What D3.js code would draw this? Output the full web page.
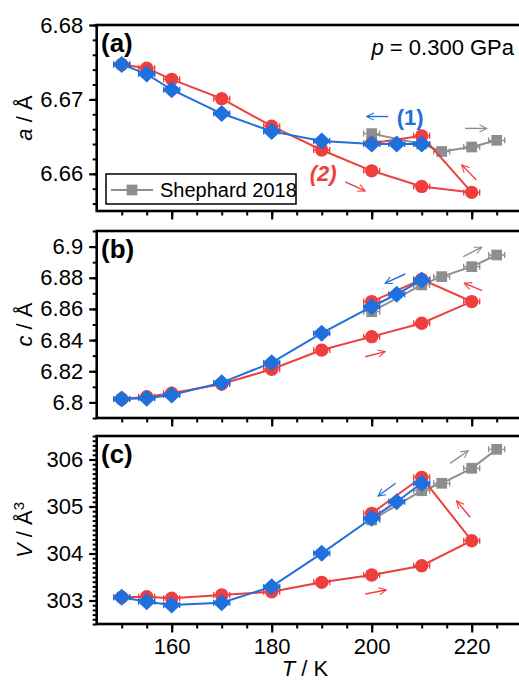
<!DOCTYPE html>
<html><head><meta charset="utf-8">
<script src="https://cdn.jsdelivr.net/npm/d3@7"></script>
<style>
body{margin:0;background:#fff;}
svg{display:block;font-family:"Liberation Sans",Arial,sans-serif;}
</style></head>
<body>
<svg id="chart" width="519" height="681"></svg>
<script>
// ---- data ----
const tempBlue = [150,155,160,170,180,190,200,205,210];
const aBlue = [6.6747,6.6734,6.6713,6.6681,6.6657,6.6644,6.6640,6.6640,6.6640];
const cBlue = [6.8022,6.8026,6.8048,6.8127,6.8255,6.8444,6.8614,6.8694,6.8786];
const vBlue = [303.068,302.975,302.904,302.953,303.294,304.004,304.749,305.102,305.494];

const tempRed = [150,155,160,170,180,190,200,210,220,210,200];
const aRed = [6.6747,6.6742,6.6727,6.6701,6.6664,6.6632,6.6604,6.6583,6.6575,6.6651,6.6641];
const cRed = [6.8022,6.8037,6.8059,6.8118,6.8213,6.8336,6.8422,6.8508,6.8647,6.8790,6.8647];
const vRed = [303.07,303.08,303.047,303.117,303.187,303.387,303.543,303.74,304.272,305.621,304.855];

const tempGray = [200,210,214,220,225];
const aGray = [6.6654,6.6640,6.6630,6.6636,6.6645];
const cGray = [6.8582,6.8754,6.8807,6.8871,6.8946];
const vGray = [304.713,305.336,305.494,305.813,306.217];

const xTicks = [160,180,200,220];
const aTicks = [6.66,6.67,6.68];
const cTicks = [6.8,6.82,6.84,6.86,6.88,6.9];
const vTicks = [303,304,305,306];

// arrow annotations in data units: [T1, v1, T2, v2, colour key]
const arrowsA = [[203.3,6.6677,199,6.6677,"blue"],[218.7,6.6661,223,6.6661,"gray"],[194.7,6.6589,198.7,6.6577,"red"],[220.9,6.6592,218,6.6612,"red"]];
const arrowsB = [[206.7,6.8824,202.7,6.8765,"blue"],[218.3,6.8935,222,6.8996,"gray"],[222.1,6.8717,218.5,6.8765,"red"],[198.7,6.8293,202.7,6.8326,"red"]];
const arrowsC = [[215.7,305.919,219.3,306.187,"gray"],[204.8,305.494,201.3,305.223,"blue"],[219.7,304.77,217,305.117,"red"],[198.7,303.138,202.9,303.223,"red"]];

const COL = {red:"#ee3e3e", blue:"#1f6fdc", gray:"#8e8e8e"};

const svg = d3.select("#chart");
const FONT = 22;
const x = d3.scaleLinear().domain([145,230]).range([96.7,521.7]);

const panels = [
  {key:"a", dom:[6.655,6.68], rng:[211,25], ticks:aTicks, minor:0.002, fmt:d3.format(".2f"),
   blue:aBlue, red:aRed, gray:aGray, arrows:arrowsA, label:"(a)", title:[["a",true],[" / Å",false]]},
  {key:"b", dom:[6.79,6.91], rng:[418,231], ticks:cTicks, minor:0.01, fmt:d => d3.format(".2f")(d).replace(/0$/,"").replace(/\.0$/,""),
   blue:cBlue, red:cRed, gray:cGray, arrows:arrowsB, label:"(b)", title:[["c",true],[" / Å",false]]},
  {key:"c", dom:[302.5,306.5], rng:[624,436], ticks:vTicks, minor:0.1, fmt:d3.format("d"),
   blue:vBlue, red:vRed, gray:vGray, arrows:arrowsC, label:"(c)", title:[["V",true],[" / Å",false],["3",false,true]]}
];

svg.append("defs").selectAll("marker").data(Object.keys(COL)).join("marker")
  .attr("id", d => "arr-"+d).attr("viewBox","0 0 10 10").attr("refX",9).attr("refY",5)
  .attr("markerWidth",9).attr("markerHeight",9).attr("markerUnits","userSpaceOnUse").attr("orient","auto")
  .append("path").attr("d","M1,1 L9,5 L1,9").attr("fill","none").attr("stroke", d => COL[d]).attr("stroke-width",1.2);

panels.forEach(p => {
  const y = d3.scaleLinear().domain(p.dom).range(p.rng);
  const g = svg.append("g");
  const [x0,x1] = x.range();
  const top = p.rng[1], bot = p.rng[0];

  // minor ticks
  const yMinor = d3.range(Math.ceil(p.dom[0]/p.minor - 1e-6), Math.floor(p.dom[1]/p.minor + 1e-6)+1).map(i => +(i*p.minor).toFixed(4));
  g.append("g").attr("transform",`translate(${x0},0)`)
    .call(d3.axisLeft(y).tickValues(yMinor).tickSize(4).tickFormat(""))
    .call(s => s.select(".domain").remove())
    .selectAll("line").attr("stroke","#000").attr("stroke-width",2);
  const xMinor = d3.range(150,230,5);
  g.append("g").attr("transform",`translate(0,${bot})`)
    .call(d3.axisBottom(x).tickValues(xMinor).tickSize(4.5).tickFormat(""))
    .call(s => s.select(".domain").remove())
    .selectAll("line").attr("stroke","#000").attr("stroke-width",2);

  // major ticks + labels
  const ya = g.append("g").attr("transform",`translate(${x0},0)`)
    .call(d3.axisLeft(y).tickValues(p.ticks).tickSize(7.5).tickPadding(6).tickFormat(p.fmt));
  ya.select(".domain").remove();
  ya.selectAll("line").attr("stroke","#000").attr("stroke-width",2.2);
  ya.selectAll("text").attr("font-size",FONT).attr("fill","#000").attr("font-family","Liberation Sans, Arial, sans-serif");

  const xa = g.append("g").attr("transform",`translate(0,${bot})`)
    .call(d3.axisBottom(x).tickValues(xTicks).tickSize(8.5).tickPadding(6).tickFormat(p.key==="c"? d3.format("d") : ""));
  xa.select(".domain").remove();
  xa.selectAll("line").attr("stroke","#000").attr("stroke-width",2.2);
  xa.selectAll("text").attr("font-size",FONT).attr("fill","#000").attr("font-family","Liberation Sans, Arial, sans-serif");

  // frame
  g.append("rect").attr("x",x0).attr("y",top).attr("width",x1-x0).attr("height",bot-top)
    .attr("fill","none").attr("stroke","#000").attr("stroke-width",2.6);

  // y title
  const t = g.append("text").attr("transform",`translate(32,${(top+bot)/2}) rotate(-90)`)
    .attr("text-anchor","middle").attr("font-size",FONT);
  p.title.forEach(([s,it,sup]) => {
    const ts = t.append("tspan").text(s);
    if (it) ts.attr("font-style","italic");
    if (sup) ts.attr("baseline-shift","super").attr("font-size",15);
  });

  // panel label
  g.append("text").attr("x",101).attr("y",top+27).attr("font-size",26).attr("font-weight","bold").text(p.label);

  // series
  const line = d3.line().x(d => x(d[0])).y(d => y(d[1]));
  const series = [
    {k:"gray", T:tempGray, V:p.gray, shape:"square"},
    {k:"red", T:tempRed, V:p.red, shape:"circle"},
    {k:"blue", T:tempBlue, V:p.blue, shape:"diamond"}
  ];
  series.forEach(s => {
    const pts = s.T.map((t,i) => [t, s.V[i]]);
    const sg = g.append("g");
    sg.append("path").attr("d", line(pts)).attr("fill","none").attr("stroke",COL[s.k]).attr("stroke-width",2);
    // small error-bar whiskers
    sg.selectAll("path.eb").data(pts).join("path").attr("class","eb")
      .attr("d", d => { const cx=x(d[0]), cy=y(d[1]); return `M${cx-8},${cy}H${cx+8}M${cx+8},${cy-3}V${cy+3}M${cx-8},${cy-3}V${cy+3}`; })
      .attr("stroke",COL[s.k]).attr("stroke-width",1.3).attr("fill","none");
    const sym = s.shape==="circle" ? d3.symbol(d3.symbolCircle, 140)
              : s.shape==="square" ? d3.symbol(d3.symbolSquare, 115)
              : null;
    sg.selectAll("path.m").data(pts).join("path").attr("class","m")
      .attr("transform", d => `translate(${x(d[0])},${y(d[1])})`)
      .attr("d", s.shape==="diamond" ? "M0,-8.5L9,0L0,8.5L-9,0Z" : sym())
      .attr("fill",COL[s.k]);
  });

  // arrows
  p.arrows.forEach(a => {
    g.append("line").attr("x1",x(a[0])).attr("y1",y(a[1])).attr("x2",x(a[2])).attr("y2",y(a[3]))
      .attr("stroke",COL[a[4]]).attr("stroke-width",1.4).attr("marker-end",`url(#arr-${a[4]})`);
  });
});

// panel (a) annotations
const yA = d3.scaleLinear().domain(panels[0].dom).range(panels[0].rng);
const pTxt = svg.append("text").attr("x",514).attr("y",55).attr("text-anchor","end").attr("font-size",FONT);
pTxt.append("tspan").attr("font-style","italic").text("p");
pTxt.append("tspan").text(" = 0.300 GPa");

svg.append("text").attr("x",x(205)).attr("y",yA(6.6677)+8).attr("font-size",FONT).attr("font-weight","bold")
  .attr("fill",COL.blue).text("(1)");
svg.append("text").attr("x",x(187.6)).attr("y",yA(6.6601)+8).attr("font-size",FONT).attr("font-weight","bold")
  .attr("font-style","italic").attr("fill",COL.red).text("(2)");

// legend
const lg = svg.append("g");
lg.append("rect").attr("x",106).attr("y",174).attr("width",190).attr("height",30)
  .attr("fill","#fff").attr("stroke","#000").attr("stroke-width",1.5);
lg.append("line").attr("x1",111).attr("x2",153).attr("y1",190).attr("y2",190).attr("stroke",COL.gray).attr("stroke-width",2);
lg.append("path").attr("transform","translate(132,190)").attr("d",d3.symbol(d3.symbolSquare,115)()).attr("fill",COL.gray);
lg.append("text").attr("x",160).attr("y",197).attr("font-size",20).text("Shephard 2018");

// x title
const xt = svg.append("text").attr("x",305).attr("y",676).attr("text-anchor","middle").attr("font-size",FONT);
xt.append("tspan").attr("font-style","italic").text("T");
xt.append("tspan").text(" / K");
</script>
</body></html>
